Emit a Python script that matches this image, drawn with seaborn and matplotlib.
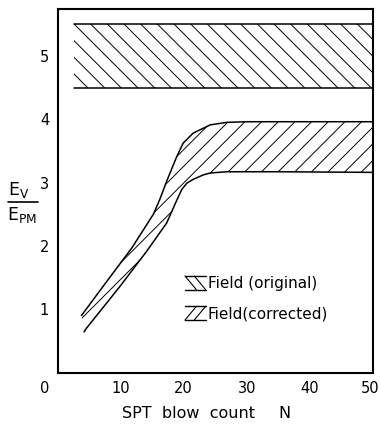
import numpy as np
import pandas as pd
import matplotlib
matplotlib.use("Agg")
import matplotlib.pyplot as plt
import matplotlib.transforms as mtransforms
import seaborn as sns
from matplotlib.patches import Patch
from matplotlib.lines import Line2D
from matplotlib.legend_handler import HandlerBase

# --- data -----------------------------------------------------------------
# field (original) band of Ev/Epm
orig_x = [2.6, 50.0]
orig_low = [4.5, 4.5]
orig_high = [5.5, 5.5]

# field (corrected) band: upper and lower bounding curves
upper_n = [3.8, 7.3, 11.8, 15.2, 16.2, 17.3, 18.9, 19.9, 21.5, 24.2, 26.8, 30.0, 50.0]
upper_r = [0.90, 1.37, 1.97, 2.50, 2.73, 3.02, 3.41, 3.62, 3.78, 3.91, 3.95, 3.96, 3.96]
lower_n = [4.2, 4.6, 9.9, 14.1, 17.3, 18.9, 19.7, 20.5, 21.5, 23.1, 24.2, 26.8, 35.0, 50.0]
lower_r = [0.64, 0.70, 1.36, 1.91, 2.36, 2.72, 2.89, 2.99, 3.05, 3.12, 3.15, 3.17, 3.17, 3.16]

x_ticks = [10, 20, 30, 40, 50]
y_ticks = [1, 2, 3, 4, 5]
legend_labels = ["Field (original)", "Field(corrected)"]

# --- style ----------------------------------------------------------------
sns.set_style("white")
plt.rcParams["font.family"] = ["DejaVu Sans"]
plt.rcParams["hatch.linewidth"] = 0.7
plt.rcParams["mathtext.default"] = "regular"
for key in ("text.color", "axes.labelcolor", "xtick.color", "ytick.color"):
    plt.rcParams[key] = "black"

W, H = 380, 428
fig = plt.figure(figsize=(W / 100, H / 100), dpi=100)
ax = fig.add_axes([57.5 / W, 1 - 372.5 / H, (373 - 57.5) / W, (372.5 - 9) / H])

# original band
ax.fill_between(orig_x, orig_low, orig_high, facecolor="none",
                edgecolor="black", hatch="\\\\", linewidth=0)
sns.lineplot(x=orig_x, y=orig_low, ax=ax, color="black", lw=1.1)
sns.lineplot(x=orig_x, y=orig_high, ax=ax, color="black", lw=1.1)

# corrected band
poly_x = upper_n + lower_n[::-1]
poly_y = upper_r + lower_r[::-1]
ax.fill(poly_x, poly_y, facecolor="none", edgecolor="black", hatch="//",
        linewidth=0)
sns.lineplot(x=upper_n, y=upper_r, ax=ax, color="black", lw=1.1,
             sort=False, estimator=None)
sns.lineplot(x=lower_n, y=lower_r, ax=ax, color="black", lw=1.1,
             sort=False, estimator=None)

ax.set_xlim(0, 50)
ax.set_ylim(0, 5.74)
ax.set_xticks(x_ticks)
ax.set_yticks(y_ticks)
ax.tick_params(direction="in", length=4, width=1, labelsize=10.5,
               colors="black")
ax.tick_params(axis="x", pad=6)
ax.tick_params(axis="y", pad=6)
for s in ax.spines.values():
    s.set_color("black")
    s.set_linewidth(1.5)
ax.set_xlabel("")
ax.set_ylabel("")
ax.annotate("0", xy=(0, 0), xycoords="data", xytext=(-9.5, -6),
            textcoords="offset points", ha="center", va="top", fontsize=10.5)

# pull the last x tick label in a little from the figure edge
fig.canvas.draw()
last = ax.get_xticklabels()[-1]
last.set_transform(last.get_transform() +
                   mtransforms.ScaledTranslation(-3 / 100, 0, fig.dpi_scale_trans))


# legend swatch: two diagonals between top and bottom rules
class HatchSwatch(HandlerBase):
    def create_artists(self, legend, orig_handle, xdescent, ydescent,
                       width, height, fontsize, trans):
        x0, y0 = -xdescent, -ydescent
        x1, y1 = x0 + width, y0 + height
        kw = dict(color="black", transform=trans)
        arts = [Line2D([x0, x1], [y1, y1], lw=1.0, **kw),
                Line2D([x0, x1], [y0, y0], lw=1.0, **kw)]
        if orig_handle.get_hatch().startswith("\\"):
            segs = [([x0, x0 + 0.55 * width], [y1, y0]),
                    ([x0 + 0.45 * width, x1], [y1, y0])]
        else:
            segs = [([x0, x0 + 0.55 * width], [y0, y1]),
                    ([x0 + 0.45 * width, x1], [y0, y1])]
        for sx, sy in segs:
            arts.append(Line2D(sx, sy, lw=0.8, **kw))
        return arts


handles = [Patch(hatch="\\\\"), Patch(hatch="//")]
ax.legend(handles, legend_labels, handler_map={Patch: HatchSwatch()},
          loc="upper left", bbox_to_anchor=((185 - 57.5) / 315.5,
                                            (372.5 - 276) / 363.5),
          frameon=False, fontsize=11, handlelength=1.35, handleheight=1.0,
          handletextpad=0.15, labelspacing=1.0, borderpad=0,
          borderaxespad=0)

# axis titles
def px(x, y):
    return x / W, 1 - y / H

fig.text(*px(121.5, 414), "SPT  blow  count", fontsize=11.5, ha="left",
         va="center")
fig.text(*px(278, 414), "N", fontsize=11.5, ha="left", va="center")
fig.text(*px(8, 190), "$E_V$", fontsize=12.5, ha="left", va="center")
fig.add_artist(Line2D([8 / W, 38 / W], [1 - 202 / H] * 2, color="black",
                      lw=1.2, transform=fig.transFigure))
fig.text(*px(7, 215), "$E_{PM}$", fontsize=12.5, ha="left", va="center")

fig.savefig("out.png", dpi=100)
